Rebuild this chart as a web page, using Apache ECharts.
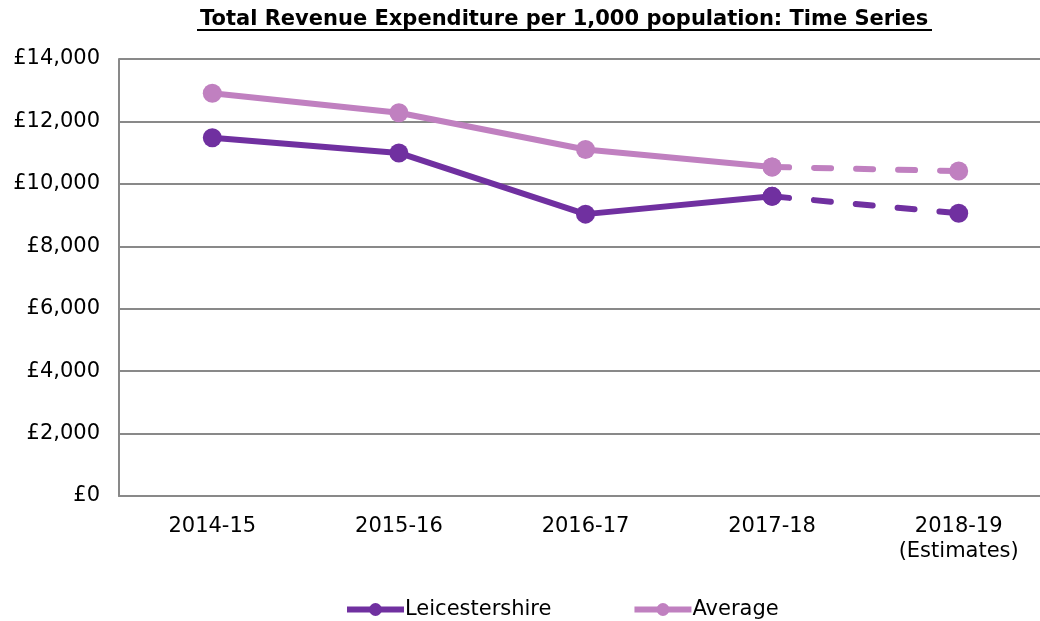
<!DOCTYPE html>
<html>
<head>
<meta charset="utf-8">
<script src="https://cdn.jsdelivr.net/npm/echarts@6/dist/echarts.min.js"></script>
<style>
html,body{margin:0;padding:0;background:#fff;overflow:hidden;}
#chart{width:1053px;height:621px;}
</style>
</head>
<body>
<div id="chart"></div>
<script>
const categories = ['2014-15', '2015-16', '2016-17', '2017-18', '2018-19\n(Estimates)'];
const leicestershire = [11480, 10990, 9030, 9600, 9060];
const average = [12900, 12280, 11100, 10540, 10410];
const yTicks = [0, 2000, 4000, 6000, 8000, 10000, 12000, 14000];
const titleText = 'Total Revenue Expenditure per 1,000 population: Time Series';

const FONT = 'DejaVu Sans';
const LEIC = '#7030A0';
const AVG = '#C080C0';

function solidPart(arr) { return arr.map((v, i) => i <= 3 ? v : null); }
function dashPart(arr) { return arr.map((v, i) => i >= 3 ? v : null); }

const chart = echarts.init(document.getElementById('chart'));
chart.setOption({
  animation: false,
  backgroundColor: '#fff',
  textStyle: { fontFamily: FONT },
  title: {
    text: titleText,
    left: 200,
    top: 9,
    padding: 0,
    textStyle: { fontFamily: FONT, fontWeight: 'bold', fontSize: 21, color: '#000' }
  },
  graphic: [{
    type: 'line',
    shape: { x1: 197, y1: 30, x2: 932, y2: 30 },
    style: { stroke: '#000', lineWidth: 2 }
  }],
  legend: {
    top: 594,
    left: 339,
    itemWidth: 57,
    itemHeight: 16,
    itemGap: 80,
    data: ['Leicestershire', 'Average'],
    lineStyle: { width: 6 },
    textStyle: { fontFamily: FONT, fontSize: 21, color: '#000', padding: [0, 0, 0, -4] }
  },
  grid: { left: 119, right: 1, top: 59, bottom: 125 },
  xAxis: {
    type: 'category',
    data: categories,
    boundaryGap: true,
    axisLine: { lineStyle: { color: '#898989', width: 2 } },
    axisTick: { show: false },
    axisLabel: { fontFamily: FONT, fontSize: 21, color: '#000', margin: 18, lineHeight: 25 }
  },
  yAxis: {
    type: 'value',
    min: yTicks[0],
    max: yTicks[yTicks.length - 1],
    interval: 2000,
    axisLine: { show: true, lineStyle: { color: '#898989', width: 2 } },
    axisTick: { show: false },
    splitLine: { lineStyle: { color: '#898989', width: 2 } },
    axisLabel: {
      fontFamily: FONT, fontSize: 21, color: '#000', margin: 19,
      formatter: v => '£' + v.toLocaleString('en-GB')
    }
  },
  series: [
    {
      name: 'Leicestershire', type: 'line', data: solidPart(leicestershire),
      color: LEIC, lineStyle: { width: 6, color: LEIC },
      symbol: 'circle', symbolSize: 19, itemStyle: { color: LEIC }, z: 3
    },
    {
      name: 'Average', type: 'line', data: solidPart(average),
      color: AVG, lineStyle: { width: 6, color: AVG },
      symbol: 'circle', symbolSize: 19, itemStyle: { color: AVG }, z: 2
    },
    {
      name: 'Leicestershire', type: 'line', data: dashPart(leicestershire),
      color: LEIC, lineStyle: { width: 6, color: LEIC, type: [17, 25], cap: 'round' },
      symbol: 'circle', symbolSize: 19, itemStyle: { color: LEIC }, z: 3
    },
    {
      name: 'Average', type: 'line', data: dashPart(average),
      color: AVG, lineStyle: { width: 6, color: AVG, type: [17, 25], cap: 'round' },
      symbol: 'circle', symbolSize: 19, itemStyle: { color: AVG }, z: 2
    }
  ]
});
</script>
</body>
</html>
